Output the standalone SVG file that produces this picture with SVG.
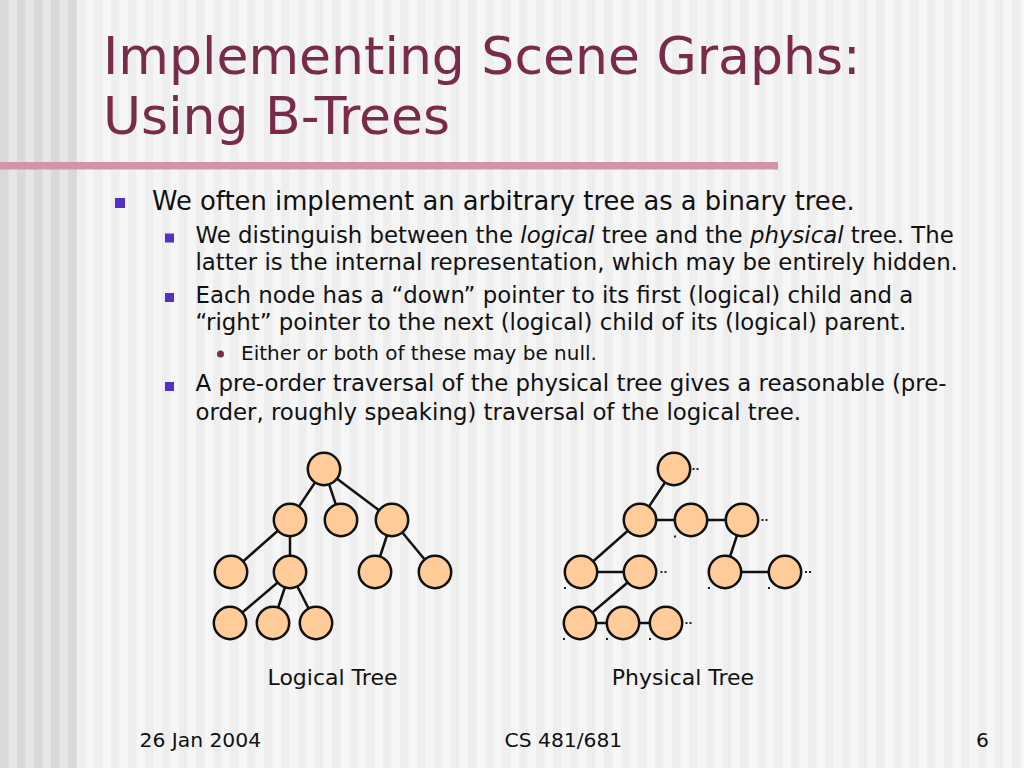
<svg xmlns="http://www.w3.org/2000/svg" width="1024" height="768" viewBox="0 0 1024 768">
  <defs>
    <pattern id="stripesL" width="17" height="10" patternUnits="userSpaceOnUse">
      <rect width="17" height="10" fill="#e6e6e6"/>
      <rect width="8.5" height="10" fill="#d9d9d9"/>
    </pattern>
    <pattern id="stripesR" x="77" width="17" height="10" patternUnits="userSpaceOnUse">
      <rect width="17" height="10" fill="#f6f6f6"/>
      <rect width="8.5" height="10" fill="#eeeeee"/>
    </pattern>
  </defs>
  <style>
    text { font-family: "DejaVu Sans", Verdana, sans-serif; }
    .title { font-size: 52px; fill: #782b4a; }
    .l1 { font-size: 25.8px; fill: #111111; }
    .l2 { font-size: 22.85px; fill: #111111; }
    .l3 { font-size: 20px; fill: #111111; }
    .lab { font-size: 22px; fill: #111111; }
    .foot { font-size: 20.3px; fill: #111111; }
    .b1 { fill: #5530c8; }
    .node circle { fill: #ffcc99; stroke: #111111; stroke-width: 2.5; }
    .edges line { stroke: #111111; stroke-width: 2.5; }
    .nul rect { fill: #222222; }
  </style>

  <!-- background -->
  <rect x="0" y="0" width="1024" height="768" fill="url(#stripesR)"/>
  <rect x="0" y="0" width="77" height="768" fill="url(#stripesL)"/>

  <!-- title -->
  <text class="title" x="103" y="74">Implementing Scene Graphs:</text>
  <text class="title" x="103" y="133.5">Using B-Trees</text>
  <rect x="0" y="162" width="778" height="7.5" fill="#d194a8"/>

  <!-- bullets -->
  <rect class="b1" x="115" y="198" width="10" height="10"/>
  <text class="l1" x="152" y="210">We often implement an arbitrary tree as a binary tree.</text>

  <rect class="b1" x="165" y="233.5" width="9" height="9"/>
  <text class="l2" x="195.5" y="242.7">We distinguish between the <tspan font-style="italic">logical</tspan> tree and the <tspan font-style="italic">physical</tspan> tree. The</text>
  <text class="l2" x="195.5" y="270">latter is the internal representation, which may be entirely hidden.</text>

  <rect class="b1" x="165" y="293" width="9" height="9"/>
  <text class="l2" x="195.5" y="302.7">Each node has a “down” pointer to its first (logical) child and a</text>
  <text class="l2" x="195.5" y="329.5">“right” pointer to the next (logical) child of its (logical) parent.</text>

  <circle cx="220.5" cy="354" r="3.5" fill="#7b2d4a"/>
  <text class="l3" x="241" y="359.5">Either or both of these may be null.</text>

  <rect class="b1" x="165" y="382" width="9" height="9"/>
  <text class="l2" x="195.5" y="391">A pre-order traversal of the physical tree gives a reasonable (pre-</text>
  <text class="l2" x="195.5" y="419.5">order, roughly speaking) traversal of the logical tree.</text>

  <!-- connectors -->
  <g id="connectors" class="edges">
    <!-- logical tree -->
    <line x1="324" y1="469" x2="290" y2="520"/>
    <line x1="324" y1="469" x2="341" y2="520"/>
    <line x1="324" y1="469" x2="392" y2="520"/>
    <line x1="290" y1="520" x2="231" y2="572"/>
    <line x1="290" y1="520" x2="290" y2="572"/>
    <line x1="392" y1="520" x2="375" y2="572"/>
    <line x1="392" y1="520" x2="435" y2="572"/>
    <line x1="290" y1="572" x2="230" y2="623"/>
    <line x1="290" y1="572" x2="273" y2="623"/>
    <line x1="290" y1="572" x2="316" y2="623"/>
    <!-- physical tree -->
    <line x1="674" y1="469" x2="640" y2="520"/>
    <line x1="640" y1="520" x2="742" y2="520"/>
    <line x1="742" y1="520" x2="725" y2="572"/>
    <line x1="725" y1="572" x2="785" y2="572"/>
    <line x1="640" y1="520" x2="581" y2="572"/>
    <line x1="581" y1="572" x2="640" y2="572"/>
    <line x1="640" y1="572" x2="580" y2="623"/>
    <line x1="580" y1="623" x2="666" y2="623"/>
  </g>

  <!-- logical tree nodes -->
  <g id="logical-tree">
    <g id="L-root" class="node"><circle cx="324" cy="469" r="16.2"/></g>
    <g id="L-a" class="node"><circle cx="290" cy="520" r="16.2"/></g>
    <g id="L-b" class="node"><circle cx="341" cy="520" r="16.2"/></g>
    <g id="L-c" class="node"><circle cx="392" cy="520" r="16.2"/></g>
    <g id="L-d" class="node"><circle cx="231" cy="572" r="16.2"/></g>
    <g id="L-e" class="node"><circle cx="290" cy="572" r="16.2"/></g>
    <g id="L-f" class="node"><circle cx="375" cy="572" r="16.2"/></g>
    <g id="L-g" class="node"><circle cx="435" cy="572" r="16.2"/></g>
    <g id="L-h" class="node"><circle cx="230" cy="623" r="16.2"/></g>
    <g id="L-i" class="node"><circle cx="273" cy="623" r="16.2"/></g>
    <g id="L-j" class="node"><circle cx="316" cy="623" r="16.2"/></g>
  </g>

  <!-- physical tree nodes -->
  <g id="physical-tree">
    <g id="P-root" class="node"><circle cx="674" cy="469" r="16.2"/></g>
    <g id="P-a" class="node"><circle cx="640" cy="520" r="16.2"/></g>
    <g id="P-b" class="node"><circle cx="691" cy="520" r="16.2"/></g>
    <g id="P-c" class="node"><circle cx="742" cy="520" r="16.2"/></g>
    <g id="P-d" class="node"><circle cx="581" cy="572" r="16.2"/></g>
    <g id="P-e" class="node"><circle cx="640" cy="572" r="16.2"/></g>
    <g id="P-f" class="node"><circle cx="725" cy="572" r="16.2"/></g>
    <g id="P-g" class="node"><circle cx="785" cy="572" r="16.2"/></g>
    <g id="P-h" class="node"><circle cx="580" cy="623" r="16.2"/></g>
    <g id="P-i" class="node"><circle cx="623" cy="623" r="16.2"/></g>
    <g id="P-j" class="node"><circle cx="666" cy="623" r="16.2"/></g>
  </g>

  <!-- null pointer markers -->
  <g id="null-markers" class="nul">
    <rect x="692.5" y="468" width="2" height="2"/><rect x="696.5" y="468" width="2" height="2"/>
    <rect x="761.5" y="519" width="2" height="2"/><rect x="765.5" y="519" width="2" height="2"/>
    <rect x="660.5" y="571" width="2" height="2"/><rect x="664.5" y="571" width="2" height="2"/>
    <rect x="805" y="571" width="2" height="2"/><rect x="809" y="571" width="2" height="2"/>
    <rect x="685.5" y="622" width="2" height="2"/><rect x="689.5" y="622" width="2" height="2"/>
    <rect x="674" y="535.5" width="2" height="2"/>
    <rect x="564" y="587" width="2" height="2"/>
    <rect x="708" y="587" width="2" height="2"/>
    <rect x="768" y="587" width="2" height="2"/>
    <rect x="563" y="638" width="2" height="2"/>
    <rect x="606" y="638" width="2" height="2"/>
    <rect x="649" y="638" width="2" height="2"/>
  </g>

  <!-- labels -->
  <text class="lab" x="332.5" y="684.5" text-anchor="middle">Logical Tree</text>
  <text class="lab" x="683" y="684.5" text-anchor="middle">Physical Tree</text>

  <!-- footer -->
  <text class="foot" x="139.5" y="747">26 Jan 2004</text>
  <text class="foot" x="504.5" y="747">CS 481/681</text>
  <text class="foot" x="976" y="747">6</text>
</svg>
